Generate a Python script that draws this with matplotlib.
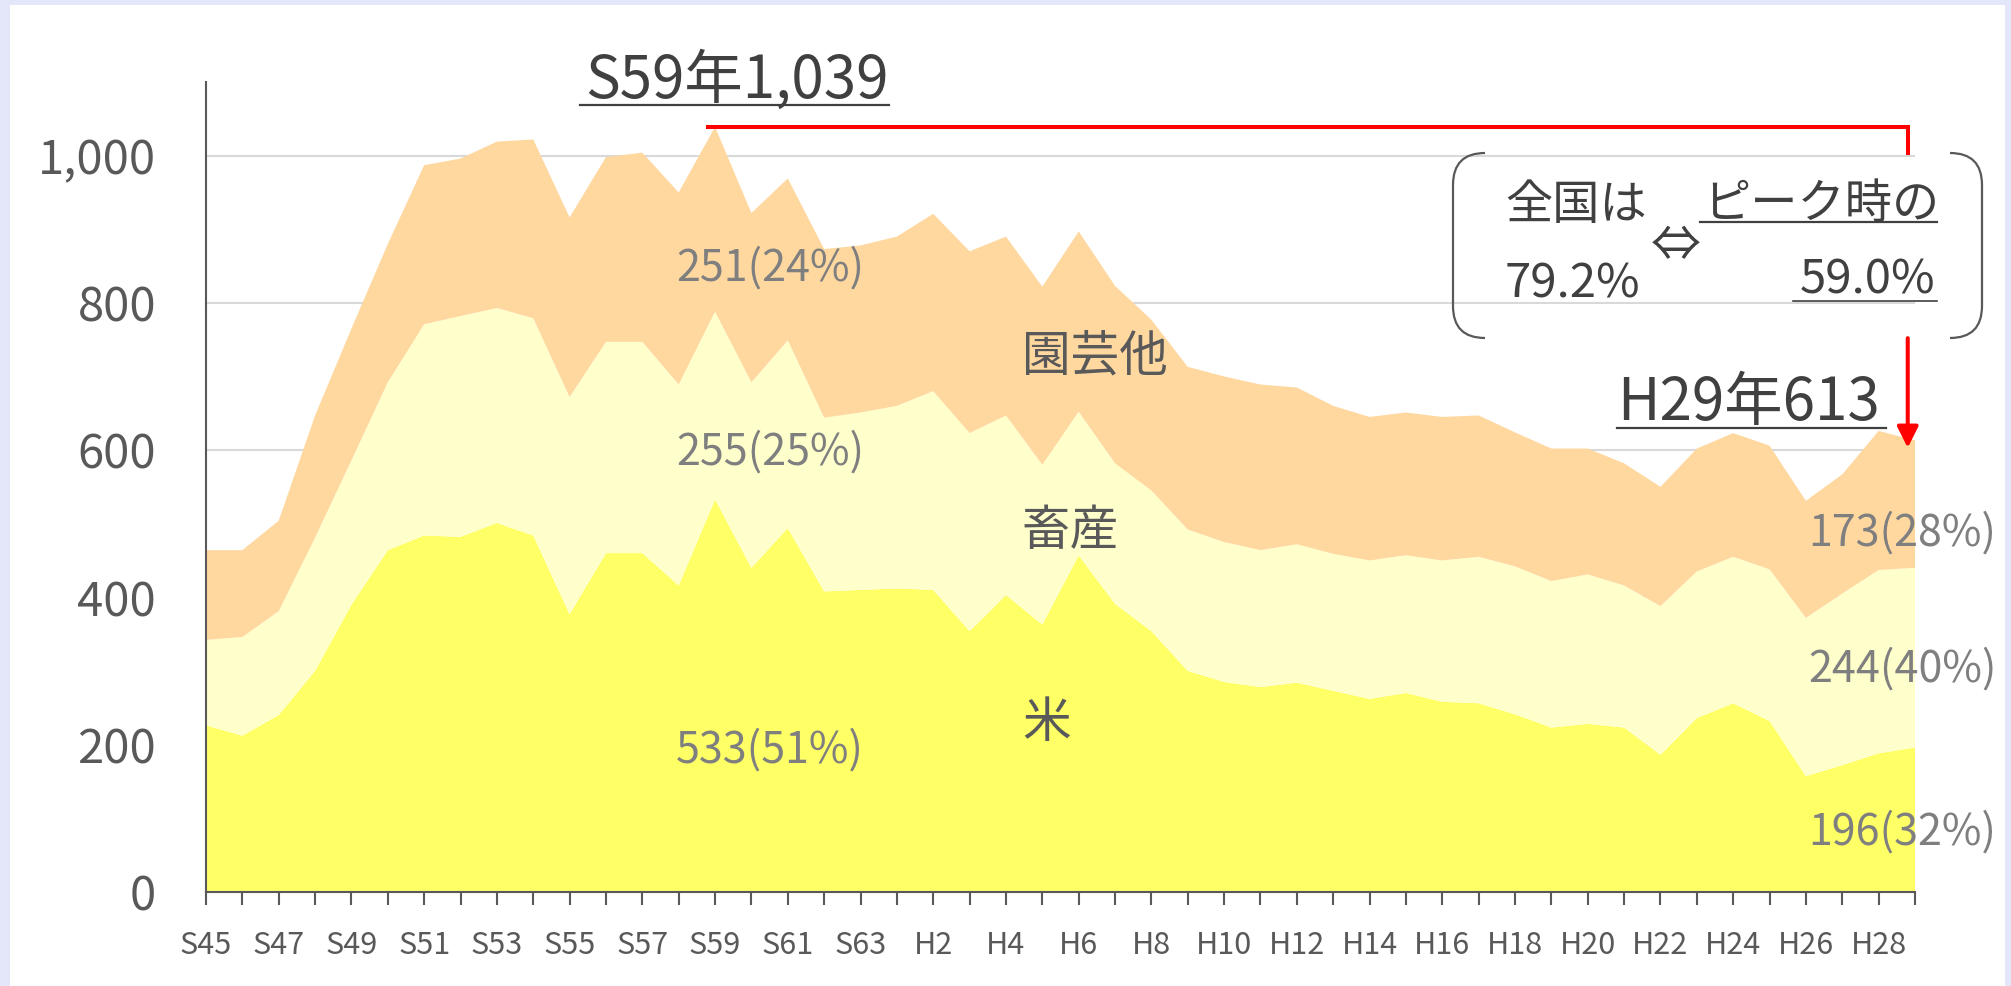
import matplotlib.pyplot as plt
from matplotlib.path import Path
from matplotlib.patches import PathPatch, Rectangle
from matplotlib.lines import Line2D
from matplotlib.ticker import FuncFormatter, MultipleLocator

plt.rcParams['font.family'] = ['Noto Sans CJK JP', 'DejaVu Sans']

# S45 (1970) .. H29 (2017)
years = ['S45', 'S46', 'S47', 'S48', 'S49', 'S50', 'S51', 'S52', 'S53', 'S54',
         'S55', 'S56', 'S57', 'S58', 'S59', 'S60', 'S61', 'S62', 'S63',
         'H1', 'H2', 'H3', 'H4', 'H5', 'H6', 'H7', 'H8', 'H9', 'H10',
         'H11', 'H12', 'H13', 'H14', 'H15', 'H16', 'H17', 'H18', 'H19', 'H20',
         'H21', 'H22', 'H23', 'H24', 'H25', 'H26', 'H27', 'H28', 'H29']

# 米
rice = [226, 212, 240, 300, 390, 464, 484, 482, 501, 484,
        377, 460, 460, 416, 533, 440, 494, 408, 410,
        412, 410, 354, 403, 363, 457, 391, 354, 300, 285,
        278, 284, 273, 262, 270, 258, 256, 241, 223, 228,
        223, 186, 236, 256, 232, 157, 172, 188, 196]
# 畜産
livestock = [116, 134, 141, 181, 196, 228, 287, 300, 292, 295,
             295, 287, 287, 273, 255, 252, 255, 236, 241,
             248, 270, 269, 244, 217, 195, 191, 191, 192, 190,
             186, 188, 186, 188, 187, 192, 199, 201, 199, 203,
             193, 202, 199, 199, 206, 215, 233, 249, 244]
# 園芸他
other = [122, 118, 123, 166, 179, 188, 216, 214, 226, 243,
         244, 251, 257, 261, 251, 230, 220, 229, 227,
         230, 241, 247, 243, 242, 245, 241, 232, 221, 225,
         225, 213, 201, 195, 194, 195, 192, 182, 180, 171,
         166, 162, 167, 168, 168, 159, 162, 189, 173]

peak_i = years.index('S59')
last_i = len(years) - 1
national_ratio = '79.2%'

W, H = 2011, 986


def fx(x):
    return x / W


def fy(y):
    return 1 - y / H


fig = plt.figure(figsize=(W / 100, H / 100), dpi=100, facecolor='#E4E7F9')
fig.patches.append(Rectangle((fx(10), 0), fx(2005) - fx(10), fy(5),
                             transform=fig.transFigure, facecolor='white',
                             edgecolor='none', zorder=-1))

ax = fig.add_axes([fx(206), fy(891.7), fx(1915) - fx(206), fy(82) - fy(891.7)])
ax.set_facecolor('none')

x = list(range(len(years)))
ax.stackplot(x, rice, livestock, other,
             colors=['#FFFF66', '#FFFFCC', '#FFD8A0'], zorder=2)

ax.set_xlim(0, last_i)
ax.set_ylim(0, 1100)
ax.yaxis.set_major_locator(MultipleLocator(200))
ax.yaxis.set_major_formatter(FuncFormatter(lambda v, _: f'{int(v):,}'))
ax.yaxis.grid(True, color='#D9D9D9', lw=1.5)
ax.set_axisbelow(True)

ax.set_xticks(x[::2])
ax.set_xticklabels(years[::2])
ax.set_xticks(x[1::2], minor=True)

for s in ['top', 'right']:
    ax.spines[s].set_visible(False)
for s in ['left', 'bottom']:
    ax.spines[s].set_color('#595959')
    ax.spines[s].set_linewidth(1.5)
    ax.spines[s].set_zorder(3)

ax.tick_params(axis='y', length=0, pad=36, labelsize=34, labelcolor='#595959')
ax.tick_params(axis='x', which='both', direction='out', length=9.5, width=1.5,
               color='#595959')
ax.tick_params(axis='x', which='major', pad=18, labelsize=22,
               labelcolor='#595959')

# 内訳ラベル
tot_peak = rice[peak_i] + livestock[peak_i] + other[peak_i]
tot_last = rice[last_i] + livestock[last_i] + other[last_i]
lab_col = '#7F7F7F'
for val, tot, px, py in [(other[peak_i], tot_peak, 676, 281),
                         (livestock[peak_i], tot_peak, 676, 465),
                         (rice[peak_i], tot_peak, 676, 763),
                         (other[last_i], tot_last, 1808, 546),
                         (livestock[last_i], tot_last, 1808, 682),
                         (rice[last_i], tot_last, 1808, 845)]:
    fig.text(fx(px), fy(py), f'{val}({val / tot:.0%})', fontsize=31,
             color=lab_col, va='baseline', ha='left')

for name, py in [('園芸他', 371), ('畜産', 545), ('米', 737)]:
    fig.text(fx(1022), fy(py), name, fontsize=35, color='#595959',
             va='baseline', ha='left')

dark = '#404040'
fig.text(fx(585), fy(98), f'S59年{tot_peak:,}', fontsize=42, color=dark,
         va='baseline', ha='left')
fig.text(fx(1617), fy(420), f'H29年{tot_last:,}', fontsize=42, color=dark,
         va='baseline', ha='left')

# 吹き出し
fig.text(fx(1505), fy(219), '全国は', fontsize=34, color=dark, va='baseline')
fig.text(fx(1505), fy(297), national_ratio, fontsize=34, color=dark, va='baseline')
fig.text(fx(1676), fy(247), '⇔', fontsize=36, color=dark, va='center', ha='center')
fig.text(fx(1703), fy(218), 'ピーク時の', fontsize=34, color=dark, va='baseline')
fig.text(fx(1935), fy(293), f'{tot_last / tot_peak:.1%}', fontsize=34, color=dark,
         va='baseline', ha='right')

# 下線
for x0, x1, y, lw in [(580, 889, 105, 1.6), (1617, 1886, 428, 1.6),
                      (1700, 1937, 222, 1.6), (1793, 1937, 301, 1.2)]:
    fig.add_artist(Line2D([fx(x0), fx(x1)], [fy(y), fy(y)], color=dark, lw=lw,
                          transform=fig.transFigure))

# 括弧
bx0, bx1, by0, by1, r = 1453, 1982, 153, 338, 32
for xe, sgn in [(bx0, 1), (bx1, -1)]:
    verts = [(xe + sgn * r, by0), (xe, by0), (xe, by0 + r), (xe, by1 - r),
             (xe, by1), (xe + sgn * r, by1)]
    codes = [Path.MOVETO, Path.CURVE3, Path.CURVE3, Path.LINETO,
             Path.CURVE3, Path.CURVE3]
    path = Path([(fx(a), fy(b)) for a, b in verts], codes)
    fig.add_artist(PathPatch(path, facecolor='none', edgecolor='#595959',
                             lw=1.6, transform=fig.transFigure))

# 赤線と矢印
ax.plot([peak_i - 0.2, last_i - 0.2, last_i - 0.2],
        [tot_peak, tot_peak, 1004], color='red', lw=2.9, clip_on=False,
        solid_joinstyle='miter', zorder=5)
ax.annotate('', xy=(last_i - 0.2, 603), xytext=(last_i - 0.2, 752),
            arrowprops=dict(arrowstyle='-|>,head_length=0.4,head_width=0.2',
                            color='red', lw=2.9, mutation_scale=32,
                            shrinkA=0, shrinkB=0),
            annotation_clip=False, zorder=5)

fig.savefig('out.png', dpi=100, facecolor=fig.get_facecolor())
